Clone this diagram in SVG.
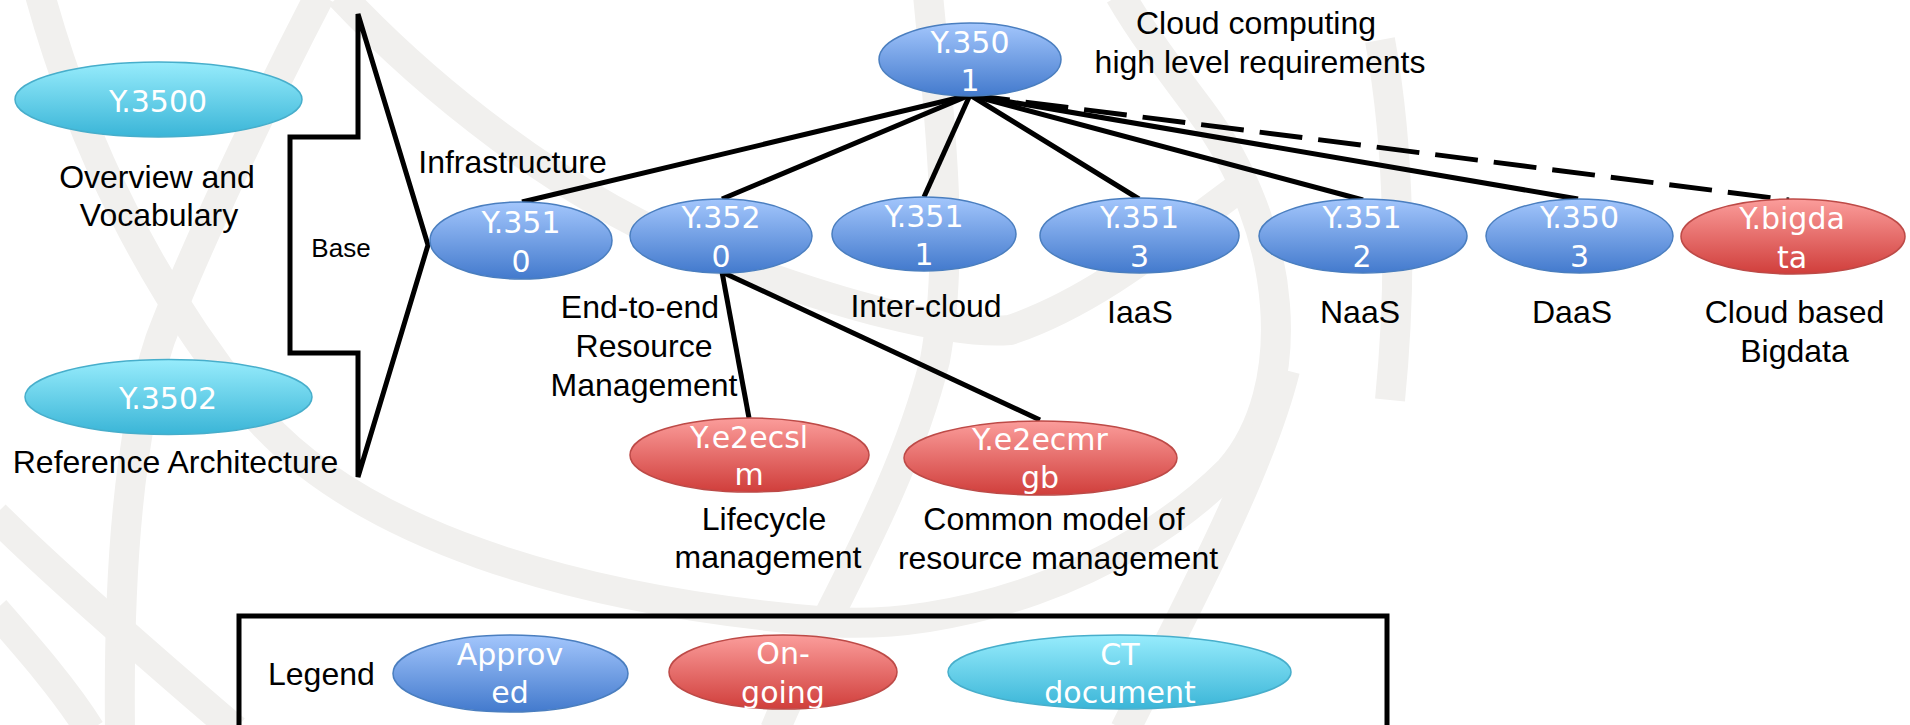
<svg xmlns="http://www.w3.org/2000/svg" width="1910" height="725" viewBox="0 0 1910 725">
  <defs>
    <linearGradient id="gBlue" x1="0" y1="0" x2="0" y2="1">
      <stop offset="0" stop-color="#a3c6fc"/>
      <stop offset="1" stop-color="#437acd"/>
    </linearGradient>
    <linearGradient id="gRed" x1="0" y1="0" x2="0" y2="1">
      <stop offset="0" stop-color="#fb9d9b"/>
      <stop offset="1" stop-color="#d03e3b"/>
    </linearGradient>
    <linearGradient id="gCyan" x1="0" y1="0" x2="0" y2="1">
      <stop offset="0" stop-color="#97ecfc"/>
      <stop offset="1" stop-color="#3ab5d7"/>
    </linearGradient>
    <clipPath id="clipGb"><rect x="900" y="410" width="290" height="85"/></clipPath>
    <clipPath id="clipGoing"><rect x="660" y="625" width="250" height="83"/></clipPath>
  </defs>
  <style>
    .blue { fill: url(#gBlue); stroke: #4a7ebf; stroke-width: 1.5; }
    .red { fill: url(#gRed); stroke: #bd4a47; stroke-width: 1.5; }
    .cyan { fill: url(#gCyan); stroke: #47aecb; stroke-width: 1.5; }
    .nt { font-family: "DejaVu Sans", Verdana, sans-serif; font-size: 30px; fill: #ffffff; text-anchor: middle; }
    .lb { font-family: "Liberation Sans", Arial, sans-serif; font-size: 32px; fill: #000000; text-anchor: middle; }
    .conn { stroke: #000000; stroke-width: 5; fill: none; stroke-linecap: butt; }
    .dash { stroke-dasharray: 43 16; stroke-dashoffset: 3; }
    .wm { fill: none; stroke: #f1f0ee; stroke-width: 30; }
  </style>
  <rect x="0" y="0" width="1910" height="725" fill="#ffffff"/>

  <g id="watermark">
    <path class="wm" d="M 40,-5 C 80,140 150,290 260,420 C 360,530 560,600 830,622 C 950,630 1120,580 1230,470 C 1300,390 1290,230 1200,110 C 1170,70 1140,30 1120,-5"/>
    <path class="wm" d="M 320,-5 C 260,110 190,260 160,340 C 130,430 118,560 120,730"/>
    <path class="wm" d="M 340,-5 C 420,80 560,200 720,260 C 840,305 950,335 1010,330 C 1100,300 1180,230 1250,180"/>
    <path class="wm" d="M 928,-5 C 940,120 955,250 935,360 C 900,500 820,620 775,730"/>
    <path class="wm" d="M 1285,370 C 1260,470 1190,600 1125,730"/>
    <path class="wm" d="M 1380,40 C 1400,150 1402,280 1390,400"/>
    <path class="wm" d="M -5,515 C 40,560 130,640 235,730"/>
    <path class="wm" d="M -5,610 C 30,650 65,690 90,730"/>
  </g>

  <g id="connectors">
    <line class="conn" x1="970" y1="95" x2="522" y2="202"/>
    <line class="conn" x1="970" y1="95" x2="722" y2="199"/>
    <line class="conn" x1="970" y1="95" x2="924" y2="197"/>
    <line class="conn" x1="970" y1="95" x2="1139" y2="199"/>
    <line class="conn" x1="970" y1="95" x2="1363" y2="200"/>
    <line class="conn" x1="970" y1="95" x2="1578" y2="199"/>
    <line class="conn dash" x1="970" y1="95" x2="1789" y2="200"/>
    <line class="conn" x1="722" y1="272" x2="749" y2="418"/>
    <line class="conn" x1="722" y1="272" x2="1040" y2="420"/>
  </g>

  <g id="base-arrow">
    <polygon points="358,14 428,245 358,477 358,353 290,353 290,137 358,137" fill="none" stroke="#000000" stroke-width="5"/>
    <text class="lb" x="341" y="257" style="font-size:26px">Base</text>
  </g>

  <g id="Y3500">
    <ellipse class="cyan" cx="158.5" cy="99.5" rx="143.5" ry="37.5"/>
    <text class="nt" x="158" y="112">Y.3500</text>
    <text class="lb" x="157" y="188">Overview and</text>
    <text class="lb" x="159" y="226">Vocabulary</text>
  </g>

  <g id="Y3502">
    <ellipse class="cyan" cx="168.5" cy="397" rx="143.5" ry="37.5"/>
    <text class="nt" x="168" y="409">Y.3502</text>
    <text class="lb" x="175.5" y="473">Reference Architecture</text>
  </g>

  <g id="Y3501">
    <ellipse class="blue" cx="970" cy="59.5" rx="91" ry="36.5"/>
    <text class="nt" x="970" y="53">Y.350</text>
    <text class="nt" x="970" y="91">1</text>
    <text class="lb" x="1256" y="34">Cloud computing</text>
    <text class="lb" x="1260" y="73">high level requirements</text>
  </g>

  <g id="Y3510">
    <ellipse class="blue" cx="521" cy="240.5" rx="91" ry="38.5"/>
    <text class="nt" x="521" y="233">Y.351</text>
    <text class="nt" x="521" y="272">0</text>
    <text class="lb" x="512.5" y="173">Infrastructure</text>
  </g>

  <g id="Y3520">
    <ellipse class="blue" cx="721" cy="236" rx="91" ry="37"/>
    <text class="nt" x="721" y="228">Y.352</text>
    <text class="nt" x="721" y="267">0</text>
    <text class="lb" x="640" y="318">End-to-end</text>
    <text class="lb" x="644" y="357">Resource</text>
    <text class="lb" x="644" y="396">Management</text>
  </g>

  <g id="Y3511">
    <ellipse class="blue" cx="924" cy="234" rx="92" ry="37"/>
    <text class="nt" x="924" y="227">Y.351</text>
    <text class="nt" x="924" y="265">1</text>
    <text class="lb" x="926" y="317">Inter-cloud</text>
  </g>

  <g id="Y3513">
    <ellipse class="blue" cx="1139.5" cy="235.5" rx="99.5" ry="37.5"/>
    <text class="nt" x="1139.5" y="228">Y.351</text>
    <text class="nt" x="1139.5" y="267">3</text>
    <text class="lb" x="1140" y="323">IaaS</text>
  </g>

  <g id="Y3512">
    <ellipse class="blue" cx="1363" cy="236" rx="104" ry="37"/>
    <text class="nt" x="1362" y="228">Y.351</text>
    <text class="nt" x="1362" y="267">2</text>
    <text class="lb" x="1360" y="323">NaaS</text>
  </g>

  <g id="Y3503">
    <ellipse class="blue" cx="1579.5" cy="236" rx="93.5" ry="37"/>
    <text class="nt" x="1579.5" y="228">Y.350</text>
    <text class="nt" x="1579.5" y="267">3</text>
    <text class="lb" x="1572" y="323">DaaS</text>
  </g>

  <g id="Ybigdata">
    <ellipse class="red" cx="1793" cy="236.5" rx="112" ry="37.5"/>
    <text class="nt" x="1792" y="229">Y.bigda</text>
    <text class="nt" x="1792" y="268">ta</text>
    <text class="lb" x="1794.5" y="323">Cloud based</text>
    <text class="lb" x="1794.5" y="362">Bigdata</text>
  </g>

  <g id="Ye2ecslm">
    <ellipse class="red" cx="749.5" cy="455" rx="119.5" ry="37"/>
    <text class="nt" x="749" y="448">Y.e2ecsl</text>
    <text class="nt" x="749" y="485">m</text>
    <text class="lb" x="764" y="530">Lifecycle</text>
    <text class="lb" x="768" y="568">management</text>
  </g>

  <g id="Ye2ecmrgb">
    <ellipse class="red" cx="1040.5" cy="458" rx="136.5" ry="37"/>
    <text class="nt" x="1040" y="450">Y.e2ecmr</text>
    <text class="nt" x="1040" y="488" clip-path="url(#clipGb)">gb</text>
    <text class="lb" x="1054" y="530">Common model of</text>
    <text class="lb" x="1058" y="569">resource management</text>
  </g>

  <g id="legend">
    <rect x="239" y="616" width="1148" height="200" fill="none" stroke="#000000" stroke-width="5"/>
    <text class="lb" x="268" y="685" style="text-anchor:start">Legend</text>
    <g id="legend-approved">
      <ellipse class="blue" cx="510.5" cy="673.5" rx="117.5" ry="38.5"/>
      <text class="nt" x="510" y="665">Approv</text>
      <text class="nt" x="510" y="703">ed</text>
    </g>
    <g id="legend-ongoing">
      <ellipse class="red" cx="783" cy="672" rx="114" ry="37"/>
      <text class="nt" x="783" y="664">On-</text>
      <text class="nt" x="783" y="703" clip-path="url(#clipGoing)">going</text>
    </g>
    <g id="legend-ct">
      <ellipse class="cyan" cx="1119.5" cy="672" rx="171.5" ry="37"/>
      <text class="nt" x="1120" y="665">CT</text>
      <text class="nt" x="1120" y="703">document</text>
    </g>
  </g>
</svg>
